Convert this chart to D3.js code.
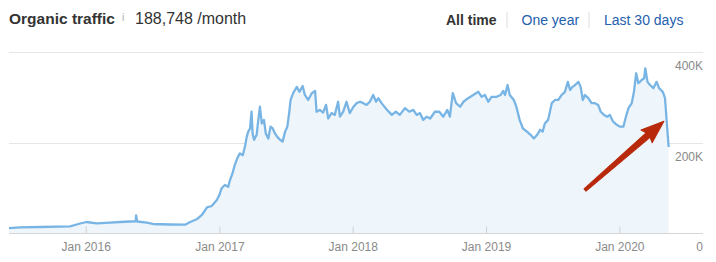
<!DOCTYPE html>
<meta charset="utf-8">
<style>
  body { margin: 0; background: #fff; }
  svg { font-family: Arial, "Liberation Sans", Helvetica, sans-serif; display: block; }
  .axis text { fill: #8a8a8a; font-size: 12px; }
  .area { fill: #eff6fb; }
  .line { fill: none; stroke: #78b5e5; stroke-width: 2.3px; stroke-linejoin: round; }
</style>
<svg width="716" height="262"></svg>
<script src="https://d3js.org/d3.v7.min.js"></script>
<script>

// organic traffic, thousands per month
var dates = [
  "2015-06-05","2015-07-05","2015-08-29","2015-11-19","2015-12-17",
  "2016-01-03","2016-01-31","2016-03-08","2016-04-04","2016-05-02","2016-05-17","2016-05-18","2016-05-21",
  "2016-06-16","2016-07-03","2016-08-19","2016-09-29","2016-10-13","2016-10-31","2016-11-14","2016-11-28",
  "2016-12-11","2016-12-25",
  "2017-01-01","2017-01-07","2017-01-16","2017-01-25","2017-01-30","2017-02-06","2017-02-12","2017-02-19",
  "2017-02-26","2017-03-06","2017-03-12","2017-03-17","2017-03-21","2017-03-26","2017-03-30","2017-04-02",
  "2017-04-06","2017-04-13","2017-04-17","2017-04-22","2017-04-27","2017-05-03","2017-05-08","2017-05-15",
  "2017-05-21","2017-05-27","2017-06-02","2017-06-08","2017-06-16","2017-06-23","2017-06-30","2017-07-06",
  "2017-07-11","2017-07-15","2017-07-22","2017-07-27","2017-08-01","2017-08-08","2017-08-17","2017-08-23",
  "2017-09-01","2017-09-11","2017-09-20","2017-09-24","2017-10-03","2017-10-12","2017-10-20","2017-10-26",
  "2017-11-04","2017-11-13","2017-11-22","2017-11-27","2017-12-06","2017-12-15","2017-12-24",
  "2018-01-03","2018-01-12","2018-01-21","2018-01-30","2018-02-08","2018-02-17","2018-02-26","2018-03-06",
  "2018-03-12","2018-03-21","2018-04-04","2018-04-18","2018-04-29","2018-05-10","2018-05-24","2018-06-05",
  "2018-06-16","2018-06-25","2018-07-04","2018-07-13","2018-07-23","2018-08-01","2018-08-14","2018-08-26",
  "2018-09-06","2018-09-17","2018-09-24","2018-10-02","2018-10-11","2018-10-22","2018-10-31","2018-11-13",
  "2018-11-27","2018-12-11","2018-12-20","2018-12-29",
  "2019-01-07","2019-01-16","2019-01-30","2019-02-10","2019-02-17","2019-02-22","2019-03-01","2019-03-07",
  "2019-03-18","2019-03-25","2019-04-03","2019-04-12","2019-04-23","2019-05-03","2019-05-12","2019-05-21",
  "2019-05-29","2019-06-05","2019-06-11","2019-06-20","2019-06-30","2019-07-09","2019-07-18","2019-07-27",
  "2019-08-05","2019-08-13","2019-08-19","2019-08-26","2019-09-02","2019-09-11","2019-09-17","2019-09-23",
  "2019-09-29","2019-10-08","2019-10-17","2019-10-26","2019-11-04","2019-11-11","2019-11-20","2019-11-29",
  "2019-12-06","2019-12-15","2019-12-25",
  "2020-01-03","2020-01-12","2020-01-19","2020-01-26","2020-02-04","2020-02-10","2020-02-16","2020-02-22",
  "2020-03-02","2020-03-09","2020-03-12","2020-03-18","2020-03-25","2020-04-03","2020-04-12","2020-04-19",
  "2020-04-29","2020-05-05","2020-05-10","2020-05-15"
];

var traffic = [
  11, 12.6, 13.3, 14.8, 21,
  24.3, 21.4, 22.8, 24.3, 25.4, 25.9, 39, 25.4,
  22.8, 19.9, 18.8, 18.3, 24.3, 30.3, 39.8, 56.8,
  59.7, 72.9,
  84, 98.8, 106, 102, 117, 132, 150, 165,
  176, 172, 191, 213, 224, 231, 268, 220,
  206, 217, 246, 279, 242, 250, 220, 209,
  235, 231, 220, 213, 206, 202, 224, 235,
  265, 294, 309, 316, 323, 312, 325, 305,
  294, 309, 314, 268, 272, 266, 283, 253,
  265, 261, 290, 257, 268, 290, 265,
  279, 287, 290, 287, 283, 290, 305, 290,
  298, 287, 273, 261, 268, 261, 276, 268,
  272, 261, 265, 250, 257, 253, 268, 268,
  257, 272, 257, 309, 287, 279, 290, 298,
  305, 312, 301, 305,
  290, 301, 301, 305, 314, 305, 327, 305,
  294, 279, 250, 231, 224, 217, 209, 217,
  228, 224, 242, 250, 287, 294, 294, 305,
  312, 334, 316, 323, 327, 334, 323, 294,
  305, 298, 287, 287, 283, 268, 261, 257,
  261, 246, 239,
  235, 235, 257, 276, 287, 312, 353, 331,
  338, 342, 364, 334, 327, 320, 334, 320,
  312, 298, 242, 190
];

var xDomain = ["2015-06-05", "2020-08-17"];
var yTicks = [0, 200, 400];
var xTickDates = ["2016-01-01", "2017-01-01", "2018-01-01", "2019-01-01", "2020-01-01"];
var periods = ["All time", "One year", "Last 30 days"];
// arrow from / to, in data space
var arrowFrom = {date: "2019-09-29", value: 95};
var arrowTo = {date: "2020-05-02", value: 247};

var parseDate = d3.timeParse("%Y-%m-%d");
var data = dates.map(function (d, i) { return {date: parseDate(d), value: traffic[i]}; });

var svg = d3.select("svg"),
    plot = {left: 9, right: 703, top: 52, bottom: 233};

var x = d3.scaleTime().domain(xDomain.map(parseDate)).range([plot.left, plot.right]);
var y = d3.scaleLinear().domain([0, 400]).range([plot.bottom, plot.top]);

// header
svg.append("text").attr("x", 9).attr("y", 24)
    .style("font-size", "15.5px").style("font-weight", "bold").style("fill", "#333")
    .text("Organic traffic");
svg.append("text").attr("x", 122).attr("y", 21)
    .style("font-size", "10px").style("fill", "#aaa").text("i");
svg.append("text").attr("x", 135).attr("y", 24)
    .style("font-size", "16px").style("fill", "#333").text("188,748 /month");

var px = [446, 521.5, 604];
periods.forEach(function (p, i) {
  svg.append("text").attr("x", px[i]).attr("y", 25)
      .style("font-size", "14px")
      .style("font-weight", i == 0 ? "bold" : "normal")
      .style("fill", i == 0 ? "#333" : "#2360ad")
      .text(p);
});
[507, 589].forEach(function (sx) {
  svg.append("line").attr("x1", sx).attr("x2", sx).attr("y1", 12).attr("y2", 28)
      .style("stroke", "#dcdcdc");
});

// grid
svg.append("g")
  .selectAll("line").data(yTicks).enter().append("line")
    .attr("x1", plot.left).attr("x2", plot.right)
    .attr("y1", function (d) { return Math.round(y(d)) + 0.5; })
    .attr("y2", function (d) { return Math.round(y(d)) + 0.5; })
    .style("stroke", function (d) { return d == 0 ? "#d6d6d6" : "#e6e6e6"; });

svg.append("path").datum(data).attr("class", "area")
    .attr("d", d3.area().x(function (d) { return x(d.date); }).y0(y(0)).y1(function (d) { return y(d.value); }));

svg.append("path").datum(data).attr("class", "line")
    .attr("d", d3.line().x(function (d) { return x(d.date); }).y(function (d) { return y(d.value); }));

// x axis
var xAxis = d3.axisBottom(x)
    .tickValues(xTickDates.map(parseDate))
    .tickFormat(d3.timeFormat("Jan %Y"))
    .tickSize(-7).tickPadding(9);
var gx = svg.append("g").attr("class", "axis")
    .attr("transform", "translate(0," + (plot.bottom + 0.5) + ")")
    .call(xAxis);
gx.select(".domain").remove();
gx.selectAll(".tick line").style("stroke", "#d0d0d0");
gx.selectAll(".tick text").style("font-size", "12px").style("fill", "#8a8a8a");

// y labels, under the grid lines, right aligned
svg.append("g").attr("class", "axis")
  .selectAll("text").data(yTicks).enter().append("text")
    .attr("x", plot.right).attr("y", function (d) { return y(d) + 18; })
    .attr("text-anchor", "end")
    .text(function (d) { return d == 0 ? "0" : d + "K"; });

// red arrow
var ax0 = x(parseDate(arrowFrom.date)), ay0 = y(arrowFrom.value),
    ax1 = x(parseDate(arrowTo.date)), ay1 = y(arrowTo.value);
var ang = Math.atan2(ay1 - ay0, ax1 - ax0),
    len = Math.hypot(ax1 - ax0, ay1 - ay0),
    headLen = 21, headW = 8.5;
var pts = [[0, -1.5], [len - headLen, -3], [len - headLen - 2, -headW], [len, 0],
           [len - headLen - 2, headW], [len - headLen, 3], [0, 1.5]];
svg.append("path")
    .attr("d", d3.line()(pts) + "Z")
    .attr("transform", "translate(" + ax0 + "," + ay0 + ") rotate(" + (ang * 180 / Math.PI) + ")")
    .style("fill", "#b8290b")
    .style("stroke", "#b8290b").style("stroke-width", 1).style("stroke-linejoin", "round");

</script>
